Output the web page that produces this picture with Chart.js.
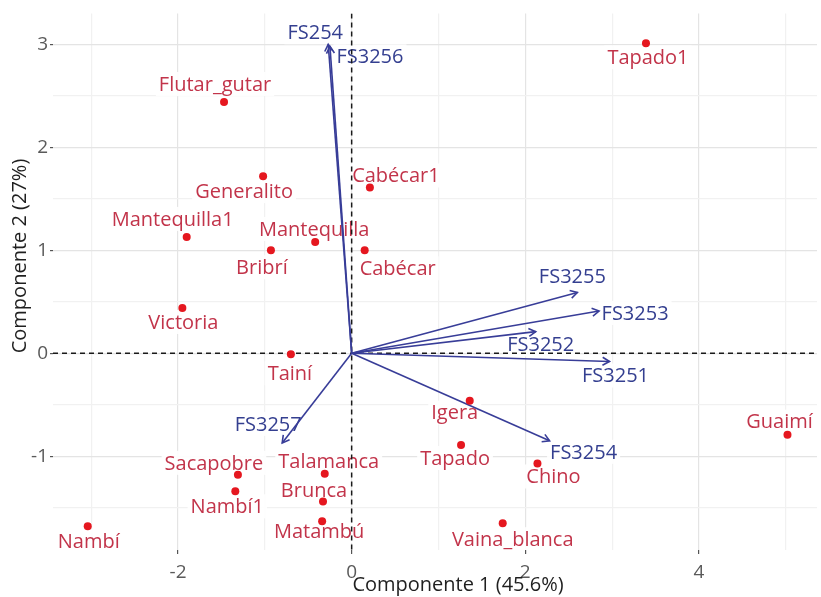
<!DOCTYPE html>
<html>
<head>
<meta charset="utf-8">
<script src="https://cdn.jsdelivr.net/npm/chart.js@4"></script>
<style>
  html, body { margin: 0; padding: 0; background: #ffffff; }
  #wrap { width: 821px; height: 597px; }
</style>
</head>
<body>
<div id="wrap"><canvas id="biplot" width="821" height="597"></canvas></div>
<script>
// Genotype scores on the first two principal components
const genotypes = ['Tapado1', 'Flutar_gutar', 'Generalito', 'Cabécar1', 'Mantequilla1',
  'Mantequilla', 'Bribrí', 'Cabécar', 'Victoria', 'Tainí', 'Sacapobre', 'Nambí1',
  'Talamanca', 'Brunca', 'Matambú', 'Nambí', 'Igera', 'Tapado', 'Chino',
  'Vaina_blanca', 'Guaimí'];
const pc1 = [3.39, -1.47, -1.02, 0.21, -1.90, -0.42, -0.93, 0.15, -1.95, -0.70, -1.31, -1.34,
  -0.31, -0.33, -0.34, -3.04, 1.36, 1.26, 2.14, 1.74, 5.02];
const pc2 = [3.01, 2.44, 1.72, 1.61, 1.13, 1.08, 1.00, 1.00, 0.44, -0.01, -1.18, -1.34,
  -1.17, -1.44, -1.63, -1.68, -0.46, -0.89, -1.07, -1.65, -0.79];

// Variable loadings (arrow tips)
const variables = ['FS254', 'FS3256', 'FS3255', 'FS3253', 'FS3252', 'FS3251', 'FS3254', 'FS3257'];
const loadPc1 = [-0.27, -0.25, 2.60, 2.85, 2.12, 2.97, 2.28, -0.80];
const loadPc2 = [3.00, 2.98, 0.59, 0.41, 0.21, -0.08, -0.85, -0.87];

// Axis ticks
const xTickLabels = [-2, 0, 2, 4];
const yTickLabels = [-1, 0, 1, 2, 3];
const xGridValues = [-3, -2, -1, 0, 1, 2, 3, 4, 5];
const yGridValues = [-1.5, -1, -0.5, 0, 0.5, 1, 1.5, 2, 2.5, 3];

const xTitle = 'Componente 1 (45.6%)';
const yTitle = 'Componente 2 (27%)';

// Repelled label placement, pixel shifts from the marker / arrow tip
const genotypeLabelShift = [[2, 14], [-9, -18], [-19, 15], [26, -12], [-14, -18],
  [-1, -13], [-9, 17], [33, 18], [1, 14], [-1, 19], [-24, -12], [-8, 15],
  [4, -12], [-9, -11], [-3, 10], [1, 15], [-15, 12], [-6, 13], [16, 13],
  [10, 16], [-8, -13]];
const variableLabelShift = [[-13, -12], [40, 10], [-5, -16], [36, 2], [5, 13],
  [6, 14], [34, 11], [-14, -19]];

const POINT_RED = '#e5171f';
const TEXT_RED = '#c2344a';
const ARROW_BLUE = '#383d98';
const TEXT_BLUE = '#343f90';
const LABEL_FONT = '20px "Open Sans"';

const biplotPlugin = {
  id: 'biplotDecor',
  beforeDatasetsDraw(chart) {
    const { ctx, chartArea: ca, scales: { x, y } } = chart;
    ctx.save();
    ctx.beginPath();
    ctx.rect(ca.left, ca.top, ca.right - ca.left, ca.bottom - ca.top);
    ctx.clip();
    ctx.font = LABEL_FONT;
    ctx.textAlign = 'center';
    ctx.textBaseline = 'middle';
    const drawLabel = (text, px, py, color) => {
      const w = ctx.measureText(text).width;
      ctx.fillStyle = 'rgba(255,255,255,0.92)';
      ctx.fillRect(px - w / 2 - 3, py - 12, w + 6, 24);
      ctx.fillStyle = color;
      ctx.fillText(text, px, py + 1);
    };
    genotypes.forEach((g, i) => {
      drawLabel(g,
        x.getPixelForValue(pc1[i]) + genotypeLabelShift[i][0],
        y.getPixelForValue(pc2[i]) + genotypeLabelShift[i][1], TEXT_RED);
    });
    variables.forEach((v, i) => {
      drawLabel(v,
        x.getPixelForValue(loadPc1[i]) + variableLabelShift[i][0],
        y.getPixelForValue(loadPc2[i]) + variableLabelShift[i][1], TEXT_BLUE);
    });
    // dashed reference lines through the origin
    const x0 = x.getPixelForValue(0);
    const y0 = y.getPixelForValue(0);
    ctx.strokeStyle = '#1a1a1a';
    ctx.lineWidth = 1.5;
    ctx.setLineDash([5, 4]);
    ctx.beginPath();
    ctx.moveTo(x0, ca.top); ctx.lineTo(x0, ca.bottom);
    ctx.moveTo(ca.left, y0); ctx.lineTo(ca.right, y0);
    ctx.stroke();
    ctx.restore();
  },
  afterDatasetsDraw(chart) {
    const { ctx, scales: { x, y } } = chart;
    ctx.save();
    ctx.strokeStyle = ARROW_BLUE;
    ctx.lineWidth = 1.6;
    const x0 = x.getPixelForValue(0);
    const y0 = y.getPixelForValue(0);
    const len = 8;
    variables.forEach((v, i) => {
      const tx = x.getPixelForValue(loadPc1[i]);
      const ty = y.getPixelForValue(loadPc2[i]);
      const ang = Math.atan2(ty - y0, tx - x0);
      ctx.beginPath();
      ctx.moveTo(tx - len * Math.cos(ang - Math.PI / 6), ty - len * Math.sin(ang - Math.PI / 6));
      ctx.lineTo(tx, ty);
      ctx.lineTo(tx - len * Math.cos(ang + Math.PI / 6), ty - len * Math.sin(ang + Math.PI / 6));
      ctx.stroke();
    });
    ctx.restore();
  },
  afterDraw(chart) {
    const { ctx } = chart;
    ctx.save();
    ctx.fillStyle = '#1f1f1f';
    ctx.font = '20px "Open Sans"';
    ctx.textAlign = 'center';
    ctx.textBaseline = 'middle';
    ctx.fillText(xTitle, 458, 585);
    ctx.translate(20, 256);
    ctx.rotate(-Math.PI / 2);
    ctx.fillText(yTitle, 0, 0);
    ctx.restore();
  }
};

const arrowSets = variables.map((v, i) => ({
  type: 'scatter',
  label: v,
  data: [{ x: 0, y: 0 }, { x: loadPc1[i], y: loadPc2[i] }],
  showLine: true,
  borderColor: ARROW_BLUE,
  borderWidth: 1.6,
  pointRadius: 0,
  order: 2
}));

new Chart(document.getElementById('biplot'), {
  type: 'scatter',
  data: {
    datasets: [
      {
        label: 'Genotipos',
        data: genotypes.map((g, i) => ({ x: pc1[i], y: pc2[i] })),
        backgroundColor: POINT_RED,
        borderColor: POINT_RED,
        pointRadius: 4,
        borderWidth: 0,
        order: 0
      },
      ...arrowSets
    ]
  },
  plugins: [biplotPlugin],
  options: {
    responsive: false,
    animation: false,
    devicePixelRatio: 1,
    layout: { padding: { top: 8, left: 0, right: 0, bottom: 0 } },
    plugins: { legend: { display: false }, tooltip: { enabled: false } },
    scales: {
      x: {
        type: 'linear',
        min: -3.44,
        max: 5.36,
        afterBuildTicks: s => { s.ticks = xGridValues.map(v => ({ value: v })); },
        afterFit: s => { s.height = 47; },
        border: { display: false },
        grid: {
          color: c => xTickLabels.includes(c.tick.value) ? '#e4e4e4' : '#f1f1f1',
          tickColor: c => xTickLabels.includes(c.tick.value) ? '#555555' : 'rgba(0,0,0,0)',
          tickLength: 4,
          lineWidth: 1.2
        },
        ticks: {
          autoSkip: false,
          maxRotation: 0,
          padding: 7,
          color: '#5a5a5a',
          font: { family: 'Open Sans', size: 19 },
          callback: v => xTickLabels.includes(v) ? String(v) : ''
        }
      },
      y: {
        type: 'linear',
        min: -1.91,
        max: 3.30,
        afterBuildTicks: s => { s.ticks = yGridValues.map(v => ({ value: v })); },
        afterFit: s => { s.width = 53; },
        border: { display: false },
        grid: {
          color: c => yTickLabels.includes(c.tick.value) ? '#e4e4e4' : '#f1f1f1',
          tickColor: c => yTickLabels.includes(c.tick.value) ? '#555555' : 'rgba(0,0,0,0)',
          tickLength: 3,
          lineWidth: 1.2
        },
        ticks: {
          autoSkip: false,
          padding: 2,
          color: '#5a5a5a',
          font: { family: 'Open Sans', size: 19 },
          callback: v => yTickLabels.includes(v) ? String(v) : ''
        }
      }
    }
  }
});
</script>
</body>
</html>
